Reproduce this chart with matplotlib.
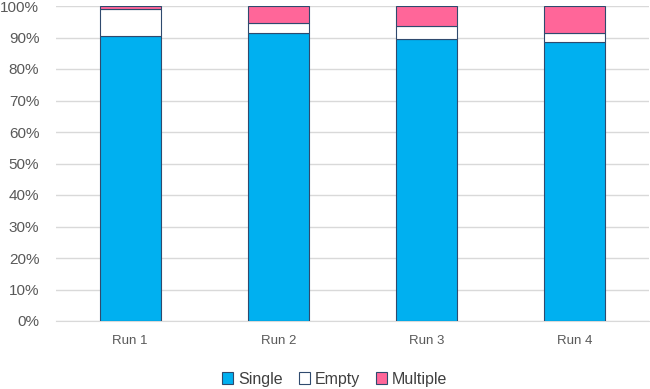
import matplotlib.pyplot as plt
import numpy as np
from matplotlib.ticker import PercentFormatter

runs = ['Run 1', 'Run 2', 'Run 3', 'Run 4']
single = [90.5, 91.5, 89.4, 88.5]
empty = [8.4, 3.0, 4.1, 3.0]
multiple = [1.1, 5.5, 6.5, 8.5]

plt.rcParams['font.family'] = ['Liberation Sans', 'DejaVu Sans']

fig = plt.figure(figsize=(6.5, 3.89), dpi=100)
ax = fig.add_axes([56 / 650, 1 - 321 / 389, 593 / 650, 315 / 389])

x = np.arange(len(runs))
w = 0.41
edge = '#2F4A6E'
ax.bar(x, single, w, color='#00B0F0', edgecolor=edge, linewidth=0.8, label='Single', zorder=3)
ax.bar(x, empty, w, bottom=single, color='white', edgecolor=edge, linewidth=0.8, label='Empty', zorder=3)
bottom2 = np.array(single) + np.array(empty)
ax.bar(x, multiple, w, bottom=bottom2, color='#FF6699', edgecolor=edge, linewidth=0.8, label='Multiple', zorder=3)

ax.set_xlim(-0.5, len(runs) - 0.5)
ax.set_ylim(0, 100)
ax.set_yticks(np.arange(0, 101, 10))
ax.yaxis.set_major_formatter(PercentFormatter(decimals=0))
ax.set_xticks(x)
ax.set_xticklabels(runs)
ax.grid(axis='y', color='#D9D9D9', linewidth=1, zorder=0)
for s in ['top', 'right', 'left']:
    ax.spines[s].set_visible(False)
ax.spines['bottom'].set_color('#D9D9D9')
ax.tick_params(axis='y', length=0, labelsize=11, labelcolor='#595959', pad=12)
ax.tick_params(axis='x', length=0, labelsize=9.5, labelcolor='#595959', pad=10)

ax.legend(loc='upper center', bbox_to_anchor=(0.47, -0.115), ncol=3, frameon=False,
          fontsize=11.5, handlelength=0.7, handleheight=0.7, handletextpad=0.3,
          columnspacing=1.0, labelcolor='#404040')

fig.savefig('out.png', dpi=100)
